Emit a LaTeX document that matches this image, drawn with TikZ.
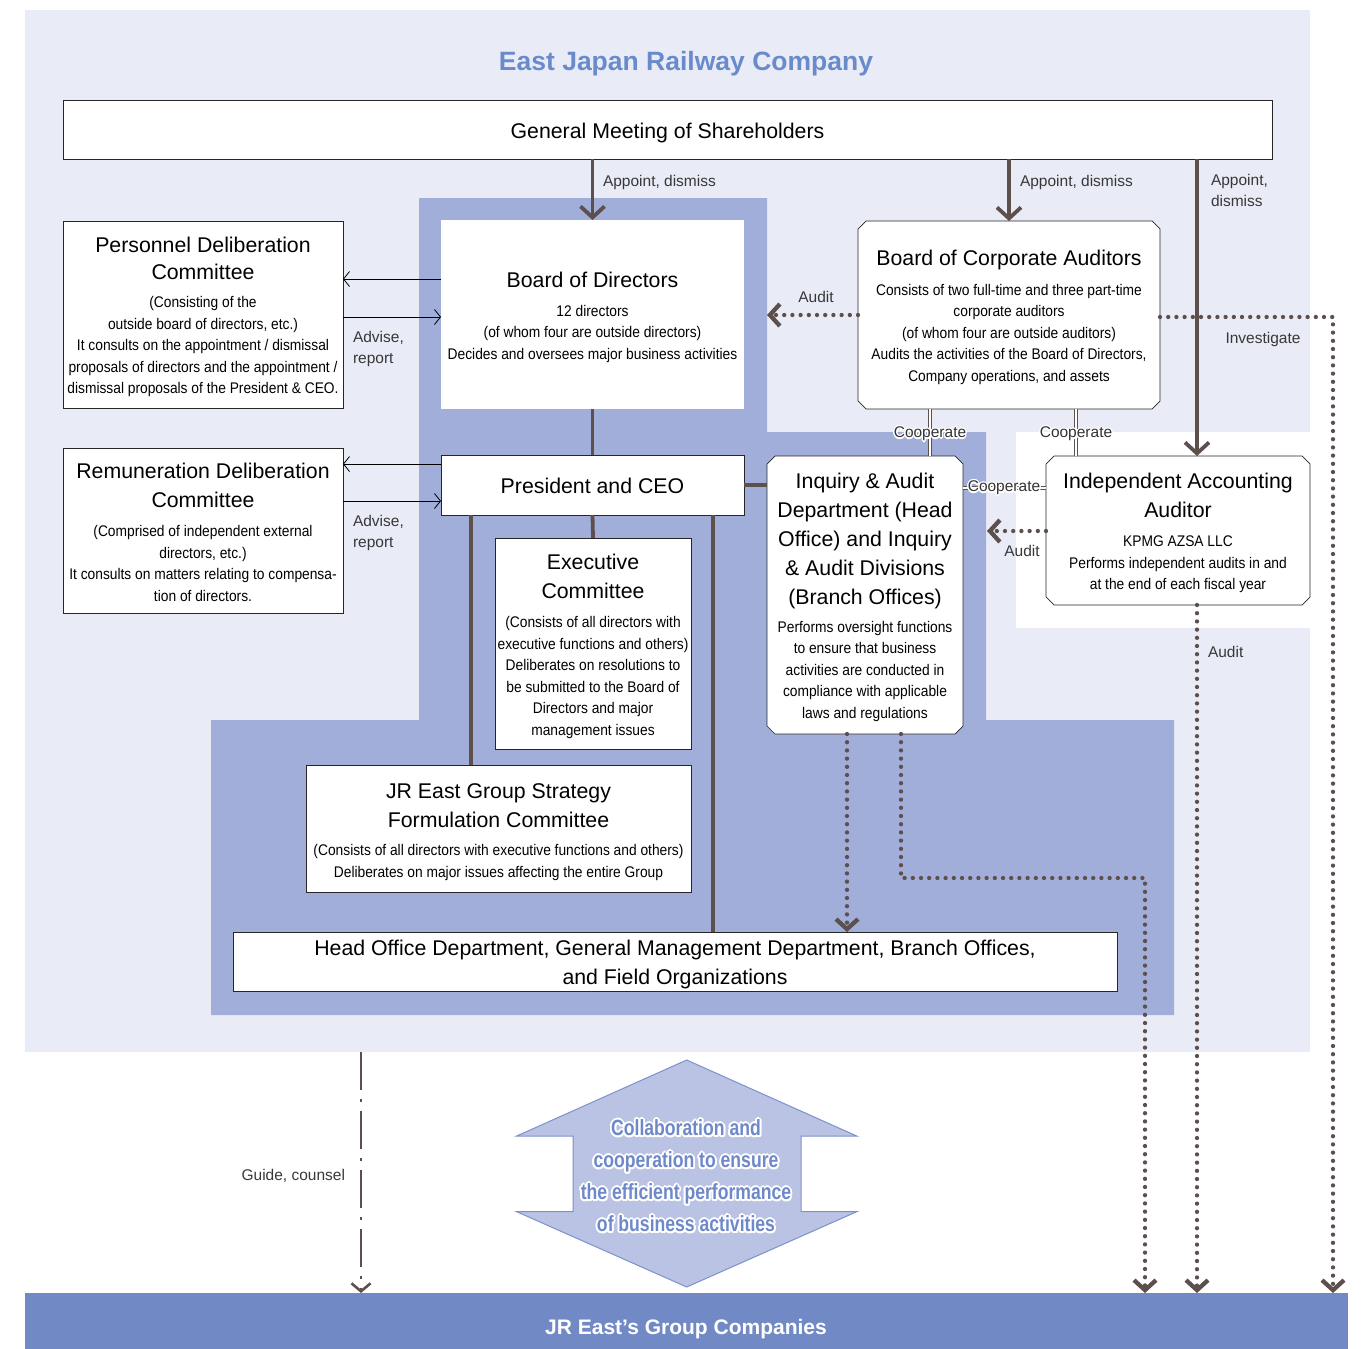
\documentclass[tikz,border=0pt]{standalone}
\usepackage{fontspec}
\setmainfont{Liberation Sans}
\newfontfamily\condf[FakeStretch=0.895]{Liberation Sans}
\newfontfamily\condb[FakeStretch=0.8]{Liberation Sans}
\usetikzlibrary{arrows.meta,calc}
\definecolor{bgl}{HTML}{E9ECF6}
\definecolor{midb}{HTML}{A1AED9}
\definecolor{band}{HTML}{718AC6}
\definecolor{ttl}{HTML}{6A8BCB}
\definecolor{ln}{HTML}{5C4F4C}
\definecolor{arrfill}{HTML}{BAC3E4}
\definecolor{arredge}{HTML}{7C91CC}
\definecolor{coltxt}{HTML}{6E88C9}
\newcommand\bigf{\rmfamily\fontsize{21.3}{28}\selectfont}
\newcommand\smf{\condf\fontsize{15.4}{21.5}\selectfont}
\newcommand\lblf{\rmfamily\fontsize{15.5}{21}\selectfont}
\newcommand\collf{\condb\bfseries\fontsize{22}{32}\selectfont}
\newcommand\halo[5]{%
 \foreach \ang in {0,24,...,336}{\node[#4,text=white] (#1h\ang) at ($(#2)+(\ang:#3)$) {#5};}
 \node[#4] (#1) at (#2) {#5};}
\newcommand\chbox[4]{\filldraw[fill=white,draw=black!85,line width=0.7pt] (#1+8,#2) -- (#3-8,#2) -- (#3,#2+8) -- (#3,#4-8) -- (#3-8,#4) -- (#1+8,#4) -- (#1,#4-8) -- (#1,#2+8) -- cycle;}
\begin{document}
\begin{tikzpicture}[x=1pt,y=-1pt,
  every node/.style={inner sep=0pt,outer sep=0pt},
  box/.style={draw=black!85,line width=0.7pt,fill=white,anchor=north west},
  tbox/.style={anchor=north west},
  txt/.style={align=center,font=\smf,yshift=-2.5pt},
  thk/.style={draw=ln,line width=3.8pt},
  thkarr/.style={thk,-{Straight Barb[length=11pt,width=24pt]}},
  thn/.style={draw=black,line width=0.8pt,-{Straight Barb[length=6pt,width=15pt]}},
  dots/.style={draw=ln,line width=4.3pt,line cap=round,dash pattern=on 0pt off 8.2pt},
  dotarr/.style={dots,-{Straight Barb[length=10pt,width=22pt]}},
  dashdot/.style={draw=ln,line width=2.6pt,dash pattern=on 38pt off 9pt on 3pt off 9pt,-{Straight Barb[length=8pt,width=19pt]}},
  coop/.style={draw=ln,line width=1.1pt,double=white,double distance=2.2pt},
  lbl/.style={font=\lblf,text=black!78},
  cooplbl/.style={font=\lblf,text=black!80}]
\useasboundingbox (0,0) rectangle (1363,1349);
% backgrounds
\fill[bgl] (25,10) rectangle (1310,1052);
\fill[white] (1016,432) rectangle (1310,628);
\fill[midb] (419,198) -- (767,198) -- (767,432) -- (986,432) -- (986,720) -- (1174,720) -- (1174,1015) -- (211,1015) -- (211,720) -- (419,720) -- cycle;
\node[font=\bfseries\fontsize{26.5}{30}\selectfont,text=ttl] (title) at (686,64) {East Japan Railway Company};
% boxes
\node[box,minimum width=1209pt,minimum height=59pt] (gm) at (63,100) {};
\node[txt,yshift=-0.5pt] (gmT) at (gm.center) {\bigf General Meeting of Shareholders};
\node[box,draw=none,minimum width=303pt,minimum height=189pt] (bod) at (441,220) {};
\node[txt] (bodT) at (bod.center)
 {\bigf Board of Directors\\[7.5pt] 12 directors\\ (of whom four are outside directors)\\ Decides and oversees major business activities};
\chbox{858}{221}{1160}{409}
\node[tbox,minimum width=302pt,minimum height=188pt] (bca) at (858,221) {};
\node[txt] (bcaT) at (bca.center)
 {\bigf Board of Corporate Auditors\\[8pt] Consists of two full-time and three part-time\\ corporate auditors\\ (of whom four are outside auditors)\\ Audits the activities of the Board of Directors,\\ Company operations, and assets};
\node[box,minimum width=280pt,minimum height=187pt] (pdc) at (63,221) {};
\node[txt] (pdcT) at (pdc.center)
 {\bigf Personnel Deliberation\\[5.5pt]\bigf Committee\\[7pt] (Consisting of the\\ outside board of directors, etc.)\\ It consults on the appointment / dismissal\\ proposals of directors and the appointment /\\ dismissal proposals of the President \& CEO.};
\node[box,minimum width=280pt,minimum height=165pt] (rdc) at (63,448) {};
\node[txt,yshift=0.5pt] (rdcT) at (rdc.center)
 {\bigf Remuneration Deliberation\\[7.5pt]\bigf Committee\\[7.5pt] (Comprised of independent external\\ directors, etc.)\\ It consults on matters relating to compensa-\\ tion of directors.};
\node[box,minimum width=303pt,minimum height=60pt] (pres) at (441,455) {};
\node[txt,yshift=1.5pt] (presT) at (pres.center) {\bigf President and CEO};
\node[box,minimum width=196pt,minimum height=211pt] (exec) at (495,538) {};
\node[txt,yshift=-0.5pt] (execT) at (exec.center)
 {\bigf Executive\\[7.5pt]\bigf Committee\\[7.5pt] (Consists of all directors with\\ executive functions and others)\\ Deliberates on resolutions to\\ be submitted to the Board of\\ Directors and major\\ management issues};
\node[box,minimum width=385pt,minimum height=127pt] (jrg) at (306,765) {};
\node[txt,yshift=-1pt] (jrgT) at (jrg.center)
 {\bigf JR East Group Strategy\\[7.5pt]\bigf Formulation Committee\\[6.5pt] (Consists of all directors with executive functions and others)\\ Deliberates on major issues affecting the entire Group};
\node[box,minimum width=884pt,minimum height=59pt] (ho) at (233,932) {};
\node[txt] (hoT) at (ho.center)
 {\bigf Head Office Department, General Management Department, Branch Offices,\\[7.5pt]\bigf and Field Organizations};
\chbox{767}{456}{963}{734}
\node[tbox,minimum width=196pt,minimum height=278pt] (inq) at (767,456) {};
\node[txt,yshift=0.5pt] (inqT) at (inq.center)
 {\bigf Inquiry \& Audit\\[7.5pt]\bigf Department (Head\\[7.5pt]\bigf Office) and Inquiry\\[7.5pt]\bigf \& Audit Divisions\\[7.5pt]\bigf (Branch Offices)\\[6.5pt] Performs oversight functions\\ to ensure that business\\ activities are conducted in\\ compliance with applicable\\ laws and regulations};
\chbox{1046}{456}{1310}{605}
\node[tbox,minimum width=264pt,minimum height=149pt] (iaa) at (1046,456) {};
\node[txt] (iaaT) at (iaa.center)
 {\bigf Independent Accounting\\[7.5pt]\bigf Auditor\\[7.5pt] KPMG AZSA LLC\\ Performs independent audits in and\\ at the end of each fiscal year};
% group companies band
\node[fill=band,anchor=north west,minimum width=1323pt,minimum height=56pt] (grp) at (25,1293) {};
\node[font=\bfseries\fontsize{21}{24}\selectfont,text=white] (grplbl) at (686,1329) {JR East's Group Companies};
% collaboration arrow
\filldraw[fill=arrfill,draw=arredge,line width=1pt] (686.7,1060) -- (856.7,1136) -- (801,1136) -- (801,1211.7) -- (856.7,1211.7) -- (686.7,1287) -- (516.7,1211.7) -- (573,1211.7) -- (573,1136) -- (516.7,1136) -- cycle;
\halo{collab}{686,1176}{1.9pt}{font=\collf,text=coltxt,align=center}{Collaboration and\\cooperation to ensure\\the efficient performance\\of business activities}
% coordinates
\coordinate (a3) at (1197,180);
\coordinate (au1) at (767,315);
\coordinate (inv) at (1333,317);
\coordinate (cp1) at (930,434);
\coordinate (cp2) at (1076,434);
\coordinate (cp3) at (1004,488);
\coordinate (au2) at (987,531);
\coordinate (d1) at (847,800);
\coordinate (d2) at (901,878);
\coordinate (d3) at (1145,878);
\coordinate (g1) at (361,1052);
% dotted connectors
\draw[dotarr] (bca.east |- inv) -- (inv) -- (inv |- grp.north);
\draw[dotarr] (bca.west |- au1) -- (au1);
\draw[dotarr] (au2 -| iaa.west) -- (au2);
\draw[dotarr] (a3 |- iaa.south) -- (a3 |- grp.north);
\draw[dotarr] (d1 |- inq.south) -- (d1 |- ho.north);
\draw[dotarr] (d2 |- inq.south) -- (d2) -- (d3) -- (d3 |- grp.north);
\draw[dashdot] (g1) -- (g1 |- grp.north);
% thick connectors
\draw[thkarr] (bod.north |- gm.south) -- (bod.north);
\draw[thkarr] (bca.north |- gm.south) -- (bca.north);
\draw[thkarr] (a3 |- gm.south) -- (a3 |- iaa.north);
\draw[thk] (bod.south) -- (pres.north);
\draw[thk] (pres.south) -- (exec.north);
\draw[thk] ([xshift=-121.5pt]pres.south) -- ([xshift=-121.5pt]pres.south |- jrg.north);
\draw[thk] ([xshift=120.5pt]pres.south) -- ([xshift=120.5pt]pres.south |- ho.north);
\draw[thk] (pres.east) -- (pres.east -| inq.west);
% thin advise arrows
\draw[thn] ([yshift=35.5pt]bod.west) -- ([yshift=35.5pt]bod.west -| pdc.east);
\draw[thn] ([yshift=-2.5pt]bod.west -| pdc.east) -- ([yshift=-2.5pt]bod.west);
\draw[thn] ([yshift=21pt]pres.west) -- ([yshift=21pt]pres.west -| rdc.east);
\draw[thn] ([yshift=-16pt]pres.west -| rdc.east) -- ([yshift=-16pt]pres.west);
% cooperate
\draw[coop] (cp1 |- bca.south) -- (cp1 |- inq.north);
\draw[coop] (cp2 |- bca.south) -- (cp2 |- iaa.north);
\draw[coop] (cp3 -| inq.east) -- (cp3 -| iaa.west);
\halo{coop1}{cp1}{1.3pt}{cooplbl}{Cooperate}
\halo{coop2}{cp2}{1.3pt}{cooplbl}{Cooperate}
\halo{coop3}{cp3}{1.3pt}{cooplbl}{Cooperate}
% labels
\node[lbl,anchor=west] (l1) at (603,182) {Appoint, dismiss};
\node[lbl,anchor=west] (l2) at (1020,182) {Appoint, dismiss};
\node[lbl,anchor=north west,align=left] (l3) at (1211,174) {Appoint,\\dismiss};
\node[lbl] (l4) at (816,297) {Audit};
\node[lbl] (l5) at (1263,339) {Investigate};
\node[lbl,anchor=north west,align=left] (l6) at (353,331) {Advise,\\report};
\node[lbl,anchor=north west,align=left] (l7) at (353,515) {Advise,\\report};
\node[lbl] (l8) at (1022,551) {Audit};
\node[lbl,anchor=west] (l9) at (1208,652) {Audit};
\node[lbl,anchor=east] (l10) at (345,1176) {Guide, counsel};
\end{tikzpicture}
\end{document}
